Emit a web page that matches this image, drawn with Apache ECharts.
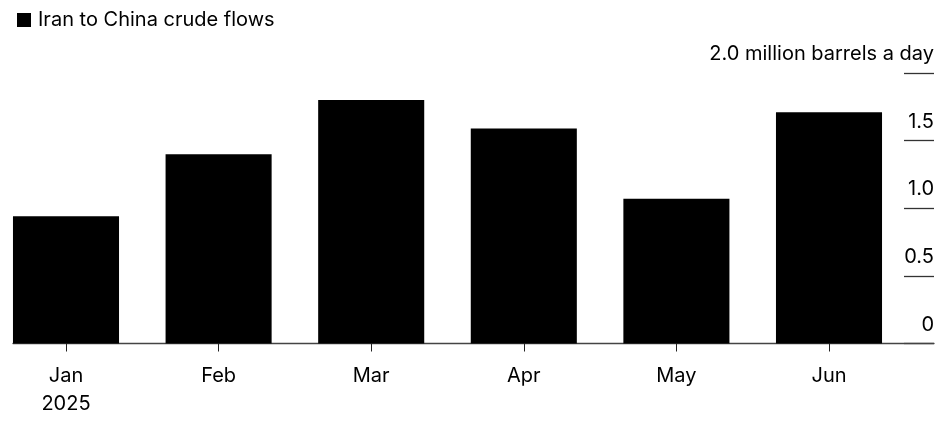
<!DOCTYPE html>
<html>
<head>
<meta charset="utf-8">
<script src="https://cdn.jsdelivr.net/npm/echarts@6/dist/echarts.min.js"></script>
<style>
html,body{margin:0;padding:0;background:#fff;}
#c{width:952px;height:421px;}
</style>
</head>
<body>
<div id="c"></div>
<script>
const categories = ['Jan\n2025', 'Feb', 'Mar', 'Apr', 'May', 'Jun'];
const flows = [0.94, 1.40, 1.80, 1.59, 1.07, 1.71];
const yTicks = [0, 0.5, 1.0, 1.5, 2.0];
const seriesName = 'Iran to China crude flows';
const unitLabel = 'million barrels a day';

const FONT = 'Inter, "Liberation Sans", Arial, sans-serif';
const FS = 20;
const TOP = 73, HEIGHT = 270.5;

const chart = echarts.init(document.getElementById('c'));
chart.setOption({
  animation: false,
  backgroundColor: '#fff',
  textStyle: { fontFamily: FONT },
  legend: {
    left: 12, top: 5,
    icon: 'rect', itemWidth: 14, itemHeight: 14, itemGap: 6,
    textStyle: { fontSize: FS, color: '#000', fontFamily: FONT, padding: [0,0,0,2] },
    data: [seriesName]
  },
  grid: [
    { left: -10.3, width: 915.6, top: TOP, height: HEIGHT, outerBoundsMode: 'none', containLabel: false },
    { left: 904, width: 30, top: TOP, height: HEIGHT, outerBoundsMode: 'none' },
    { left: 13, right: 18, top: TOP, height: HEIGHT, outerBoundsMode: 'none' }
  ],
  xAxis: [
    {
      type: 'category', gridIndex: 0, data: categories,
      axisLine: { show: false },
      axisTick: { show: true, alignWithLabel: true, length: 8, lineStyle: { color: '#222', width: 1 } },
      axisLabel: { fontSize: FS, color: '#000', margin: 18, lineHeight: 28, fontFamily: FONT }
    },
    { type: 'value', gridIndex: 1, show: false },
    {
      type: 'value', gridIndex: 2, min: 0, max: 1,
      axisLine: { show: true, lineStyle: { color: '#444', width: 1.3 } },
      axisTick: { show: false }, axisLabel: { show: false }, splitLine: { show: false }
    }
  ],
  yAxis: [
    { type: 'value', gridIndex: 0, min: 0, max: 2, show: false },
    {
      type: 'value', gridIndex: 1, min: 0, max: 2, interval: 0.5, position: 'right',
      axisLine: { show: false }, axisTick: { show: false },
      splitLine: { show: true, lineStyle: { color: '#333', width: 1.3 } },
      axisLabel: {
        inside: true, margin: 0, fontSize: FS, color: '#000', fontFamily: FONT,
        verticalAlign: 'bottom', padding: [0, 0, 9, 0],
        formatter: function (v) {
          if (yTicks.indexOf(v) < 0) return '';
          if (v === 0) return '0';
          const s = v.toFixed(1);
          return v === yTicks[yTicks.length - 1] ? s + ' ' + unitLabel : s;
        }
      }
    },
    { type: 'value', gridIndex: 2, show: false, min: 0, max: 2 }
  ],
  series: [{
    name: seriesName, type: 'bar', xAxisIndex: 0, yAxisIndex: 0,
    data: flows, barCategoryGap: '30.5%',
    itemStyle: { color: '#000' }
  }]
});
</script>
</body>
</html>
